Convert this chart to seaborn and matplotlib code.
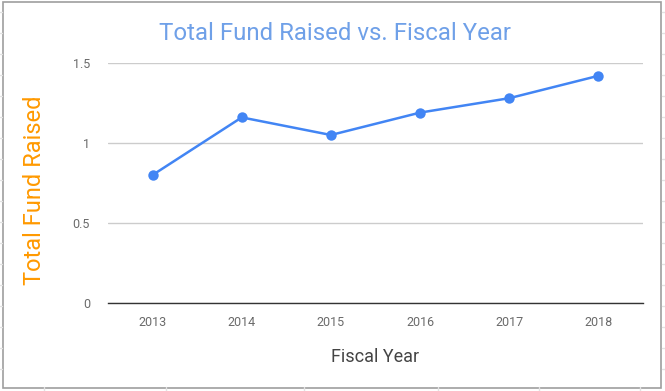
import pandas as pd
import matplotlib
matplotlib.use('Agg')
import matplotlib.pyplot as plt
import seaborn as sns
from matplotlib.patches import Rectangle
from matplotlib.lines import Line2D

# data
years = ['2013', '2014', '2015', '2016', '2017', '2018']
funds = [0.80, 1.16, 1.05, 1.19, 1.28, 1.42]
y_ticks = [0, 0.5, 1, 1.5]
y_tick_labels = ['0', '0.5', '1', '1.5']

df = pd.DataFrame({'Fiscal Year': years, 'Total Fund Raised': funds})

sns.set_theme(style='white')
plt.rcParams['font.family'] = ['Roboto', 'DejaVu Sans']

W, H = 665, 391
fig = plt.figure(figsize=(W / 100, H / 100), dpi=100)

# faint spreadsheet cells behind the chart
for x in [44, 166, 304, 438, 539, 640]:
    fig.add_artist(Line2D([x / W, x / W], [0, 4 / H], color='#e2e2e2', lw=1))
for y in [12, 33, 54, 75, 96, 117, 138, 159, 180, 201, 222, 243, 264, 285, 306, 327, 348, 369]:
    fig.add_artist(Line2D([662 / W, 1], [1 - y / H, 1 - y / H], color='#e2e2e2', lw=1))
    fig.add_artist(Line2D([0, 2 / W], [1 - y / H, 1 - y / H], color='#e2e2e2', lw=1))

# chart border
fig.add_artist(Rectangle((2.5 / W, 1 - 387.5 / H), 658.5 / W, 386 / H,
                         transform=fig.transFigure, fill=True, facecolor='white',
                         edgecolor='#9e9e9e', lw=1.2, zorder=0))

ax = fig.add_axes([108 / W, 1 - 303 / H, 535 / W, 240 / H])
ax.patch.set_alpha(0)

sns.lineplot(data=df, x='Fiscal Year', y='Total Fund Raised', ax=ax,
             color='#4285F4', linewidth=1.8, marker='o', markersize=7.5,
             markeredgewidth=0, sort=False)

ax.set_xlim(-0.5, len(years) - 0.5)
ax.set_ylim(0, 1.5)
ax.set_yticks(y_ticks)
ax.set_yticklabels(y_tick_labels)
ax.yaxis.grid(True, color='#cccccc', linewidth=1)
ax.xaxis.grid(False)
for s in ['top', 'right', 'left']:
    ax.spines[s].set_visible(False)
ax.spines['bottom'].set_color('#333333')
ax.spines['bottom'].set_linewidth(1)
ax.tick_params(axis='both', length=0, labelsize=9, colors='#6a6a6a')
ax.tick_params(axis='y', pad=13)
ax.tick_params(axis='x', pad=9)
ax.set_axisbelow(True)

ax.set_xlabel('')
ax.set_ylabel('')
fig.text(375 / W, 1 - 357 / H, 'Fiscal Year', ha='center', va='center',
         fontsize=13, color='#444444')
fig.text(35 / W, 1 - 190 / H, 'Total Fund Raised', ha='center', va='center',
         rotation=90, fontsize=17, color='#FF9900')
fig.text(335 / W, 1 - 33 / H, 'Total Fund Raised vs. Fiscal Year', ha='center',
         va='center', fontsize=17.3, color='#6FA0E8')

fig.savefig('out.png', dpi=100)
